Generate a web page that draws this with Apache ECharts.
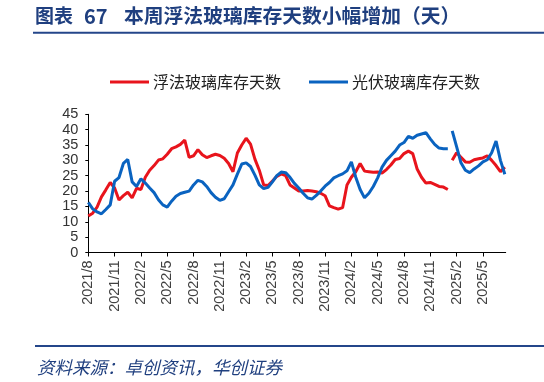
<!DOCTYPE html>
<html>
<head>
<meta charset="utf-8">
<script src="https://cdn.jsdelivr.net/npm/echarts@6/dist/echarts.min.js"></script>
<style>
html,body{margin:0;padding:0;background:#fff;}
#c{width:544px;height:382px;}
</style>
</head>
<body>
<div id="c"></div>
<script>
// x positions: months since 2021/8 (half-month steps), with a gap (Spring Festival 2025)
const tickLabels = ["2021/8","2021/11","2022/2","2022/5","2022/8","2022/11","2023/2","2023/5","2023/8","2023/11","2024/2","2024/5","2024/8","2024/11","2025/2","2025/5"];
const seriesNames = ["浮法玻璃库存天数", "光伏玻璃库存天数"];

const months = [];
for (let k = 0; k <= 82; k++) months.push(k / 2);
months.push(41.25); // gap
for (let k = 83; k <= 95; k++) months.push(k / 2);

const floatDays = [
  11.9, 12.8, 14.8, 18.1, 20.4, 22.8, 21, 17.1, 18.5, 19.6,
  17.8, 20.9, 20.5, 24.5, 26.8, 28.3, 30.1, 30.5, 32, 33.8,
  34.4, 35.2, 36.6, 31, 31.5, 33.5, 31.8, 30.9, 31.5, 32,
  31.6, 30.7, 29, 26.3, 32.4, 35, 37.2, 35.3, 30.4, 26.8,
  22, 21.8, 23.3, 24.8, 25.6, 25, 22, 21, 20, 20,
  20.2, 20, 19.8, 19.3, 18.5, 15.2, 14.6, 14.1, 14.6, 22,
  24.5, 26.3, 29, 26.5, 26.3, 26.1, 26.2, 25.9, 27, 28.5,
  30.3, 30.6, 32.2, 33, 32.2, 27.2, 24.5, 22.6, 22.8, 22.2,
  21.5, 21.3, 20.5,
  null,
  30, 32.5, 31, 29.5, 29.4, 30.2, 30.5, 30.8, 31.5, 30, 28.3, 26.3, 27.8
];

const pvDays = [
  16.3, 14.2, 13.2, 12.6, 14, 15.5, 23.2, 24.4, 29, 30.3,
  23, 21.5, 24, 22.6, 21, 19.5, 17.2, 15.5, 14.8, 16.7,
  18.3, 19.2, 19.6, 20, 22, 23.5, 23, 21.5, 19.5, 18,
  17, 17.5, 19.8, 22, 25.5, 28.8, 29.2, 28, 25.2, 22,
  20.8, 21.2, 23, 25, 26.2, 26, 24.5, 22.5, 21, 19.3,
  17.8, 17.4, 18.6, 20, 21.6, 22.8, 24.3, 25, 25.6, 26.6,
  29.5, 24.5, 20.5, 17.8, 19.3, 21.5, 24.3, 27.8, 30, 31.5,
  33, 35, 35.8, 37.8, 37.2, 38.2, 38.6, 39, 37, 35.2,
  34, 33.8, 33.8,
  null,
  39.6, 34.5, 29.2, 26.8, 26, 27.2, 28.2, 29.5, 30.2, 32.5, 36.3, 30, 25.5
];

const toPairs = (vals) => months.map((m, i) => [m, vals[i] == null ? '-' : vals[i]]);

const NAVY = '#1f3f7f';
const chart = echarts.init(document.getElementById('c'), null, {renderer: 'canvas'});
chart.setOption({
  animation: false,
  backgroundColor: '#fff',
  grid: {left: 88.3, right: 38.3, top: 114.3, bottom: 129.5, containLabel: false},
  legend: {
    left: 105, top: 69,
    icon: 'rect', itemWidth: 39, itemHeight: 3, itemGap: 28,
    textStyle: {fontSize: 16, color: '#222', fontFamily: 'Noto Sans CJK SC', padding: [0,0,0,-1]},
    data: seriesNames
  },
  xAxis: {
    type: 'value', min: 0, max: 47.6, interval: 3,
    axisLine: {show: true, lineStyle: {color: '#000', width: 1}},
    axisTick: {show: true, length: 4, lineStyle: {color: '#000'}},
    splitLine: {show: false},
    axisLabel: {
      rotate: 90, margin: 8, fontSize: 14.5, color: '#404040',
      fontFamily: 'Liberation Sans',
      showMaxLabel: false,
      formatter: function (v) {
        const i = Math.round(v / 3);
        return Math.abs(v - i * 3) < 1e-6 && tickLabels[i] ? tickLabels[i] : '';
      }
    }
  },
  yAxis: {
    type: 'value', min: 0, max: 45, interval: 5,
    axisLine: {show: true, lineStyle: {color: '#000', width: 1}},
    axisTick: {show: true, length: 3, lineStyle: {color: '#000'}},
    splitLine: {show: false},
    axisLabel: {margin: 10, fontSize: 14.5, color: '#333', fontFamily: 'Liberation Sans'}
  },
  series: [
    {
      name: seriesNames[0], type: 'line', data: toPairs(floatDays),
      showSymbol: false, connectNulls: false,
      lineStyle: {width: 3, color: '#e8141c'}, itemStyle: {color: '#e8141c'}
    },
    {
      name: seriesNames[1], type: 'line', data: toPairs(pvDays),
      showSymbol: false, connectNulls: false,
      lineStyle: {width: 3, color: '#0a63c0'}, itemStyle: {color: '#0a63c0'}
    }
  ],
  graphic: [
    {type: 'text', left: 35, top: 6, style: {text: '图表', fontSize: 19, fontWeight: 'bold', fill: NAVY, fontFamily: 'Noto Sans CJK SC'}},
    {type: 'text', left: 84, top: 6, style: {text: '67', fontSize: 20, fontWeight: 'bold', fill: NAVY, fontFamily: 'Noto Sans CJK SC'}},
    {type: 'text', left: 124, top: 6, style: {text: '本周浮法玻璃库存天数小幅增加（天）', fontSize: 19.8, fontWeight: 'bold', fill: NAVY, fontFamily: 'Noto Sans CJK SC'}},
    {type: 'line', shape: {x1: 33, y1: 32.7, x2: 544, y2: 32.7}, style: {stroke: '#24468a', lineWidth: 2}},
    {type: 'line', shape: {x1: 35, y1: 346, x2: 544, y2: 346}, style: {stroke: '#24468a', lineWidth: 2}},
    {type: 'text', left: 37, top: 359, style: {text: '资料来源：卓创资讯，华创证券', fontSize: 17.5, fontStyle: 'italic', fill: NAVY, fontFamily: 'Noto Sans CJK SC'}}
  ]
});
</script>
</body>
</html>
